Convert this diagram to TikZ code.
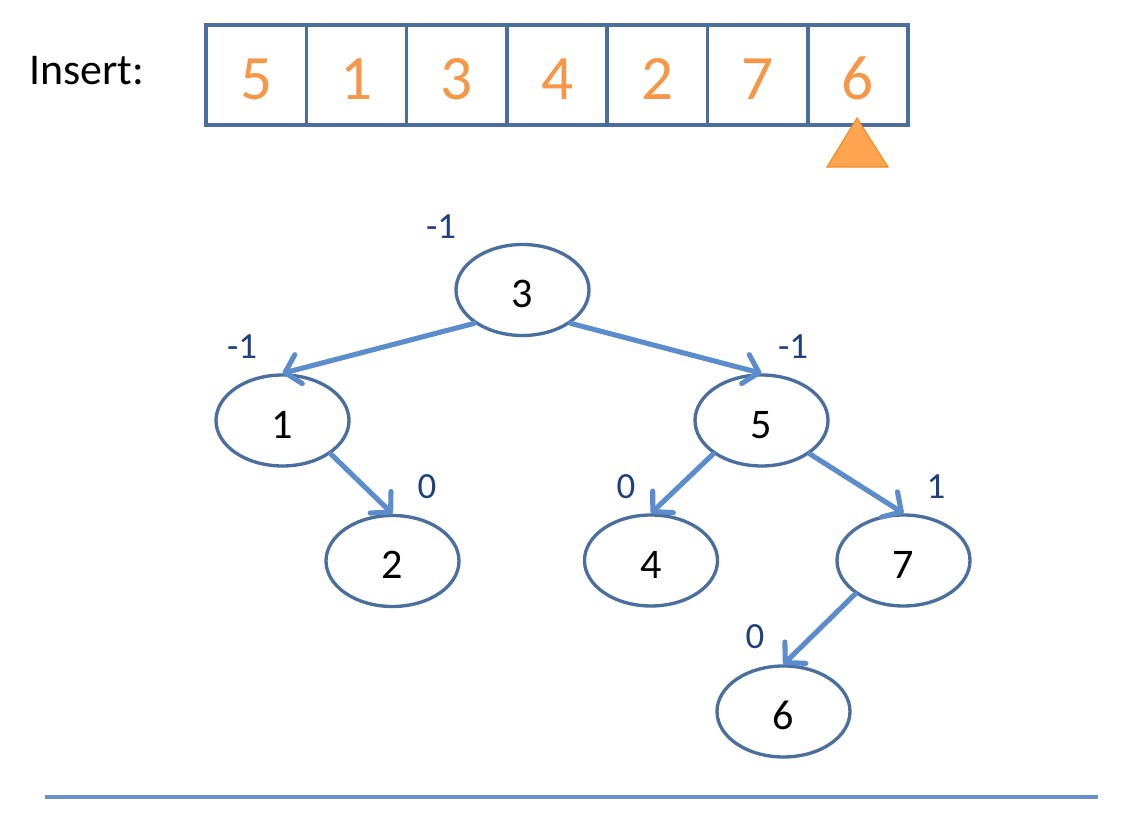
\documentclass[tikz,border=0pt]{standalone}
\usepackage{fontspec}
\setmainfont{Carlito}
\usetikzlibrary{shapes.geometric,arrows.meta}
\definecolor{cellblue}{HTML}{4A6E9E}
\definecolor{edgeblue}{HTML}{5B8CCB}
\definecolor{rulerblue}{HTML}{6A8FC9}
\definecolor{labelblue}{HTML}{1F3F7F}
\definecolor{keyorange}{HTML}{F79646}
\definecolor{markfill}{HTML}{FFA54F}
\definecolor{markline}{HTML}{EE8A1E}
\tikzset{
  cellbox/.style={draw=cellblue, line width=2pt, minimum width=2.006cm, minimum height=2cm,
    inner sep=0pt, text=keyorange, text height=1.1cm, text depth=0.1cm,
    font=\fontsize{36}{36}\selectfont},
  avlnode/.style={ellipse, draw=cellblue, line width=1.9pt, minimum width=2.66cm,
    minimum height=1.82cm, inner sep=0pt, text height=0.8cm, text depth=0.085cm,
    font=\fontsize{24}{24}\selectfont},
  balance/.style={text=labelblue, inner sep=0pt, font=\fontsize{21}{21}\selectfont},
  child/.style={draw=edgeblue, line width=2.9pt, line cap=round,
    -{Straight Barb[length=8pt,width=17pt,round]}},
}
\begin{document}
\begin{tikzpicture}
            \useasboundingbox (0,0) rectangle (22.820000,16.680000);

            % Marking the insert label
            \node [anchor=base west, font=\fontsize{25}{25}\selectfont] (ins) at (0.460000,14.980000) {Insert:};%

            % Drawing the key cells
            \node [cellbox] (k1) at (5.124000,15.180000) {5};%
            \node [cellbox] (k2) at (7.130000,15.180000) {1};%
            \node [cellbox] (k3) at (9.136000,15.180000) {3};%
            \node [cellbox] (k4) at (11.142000,15.180000) {4};%
            \node [cellbox] (k5) at (13.148000,15.180000) {2};%
            \node [cellbox] (k6) at (15.154000,15.180000) {7};%
            \node [cellbox] (k7) at (17.160000,15.180000) {6};%

            % Drawing the pointer under key 6
            \draw [fill=markfill, draw=markline, line width=0.6pt, line join=miter]
                (17.140000,14.320000) -- (17.760000,13.340000) -- (16.540000,13.340000) -- cycle;%

            % Drawing tree nodes
            \node [avlnode] (n3) at (10.450000,10.880000) {3};%
            \node [avlnode] (n1) at (5.650000,8.270000) {1};%
            \node [avlnode] (n5) at (15.230000,8.270000) {5};%
            \node [avlnode] (n2) at (7.850000,5.460000) {2};%
            \node [avlnode] (n4) at (13.020000,5.470000) {4};%
            \node [avlnode] (n7) at (18.070000,5.470000) {7};%
            \node [avlnode] (n6) at (15.670000,2.450000) {6};%

            % Drawing child links
            \draw [child] (n3.south west) -- (n1.north);%
            \draw [child] (n3.south east) -- (n5.north);%
            \draw [child] (n1.south east) -- (n2.north);%
            \draw [child] (n5.south west) -- (n4.north);%
            \draw [child] (n5.south east) -- (n7.north);%
            \draw [child] (n7.south west) -- (n6.north);%

            % Marking balance factors
            \node [balance] (b3) at (8.820000,12.150000) {-1};%
            \node [balance] (b1) at (4.840000,9.740000) {-1};%
            \node [balance] (b5) at (15.860000,9.740000) {-1};%
            \node [balance] (b2) at (8.540000,6.940000) {0};%
            \node [balance] (b4) at (12.520000,6.940000) {0};%
            \node [balance] (b7) at (18.720000,6.940000) {1};%
            \node [balance] (b6) at (15.100000,3.940000) {0};%

            % Drawing the bottom rule
            \draw [draw=rulerblue, line width=2pt] (0.900000,0.740000) -- (21.960000,0.740000);%
\end{tikzpicture}
\end{document}
